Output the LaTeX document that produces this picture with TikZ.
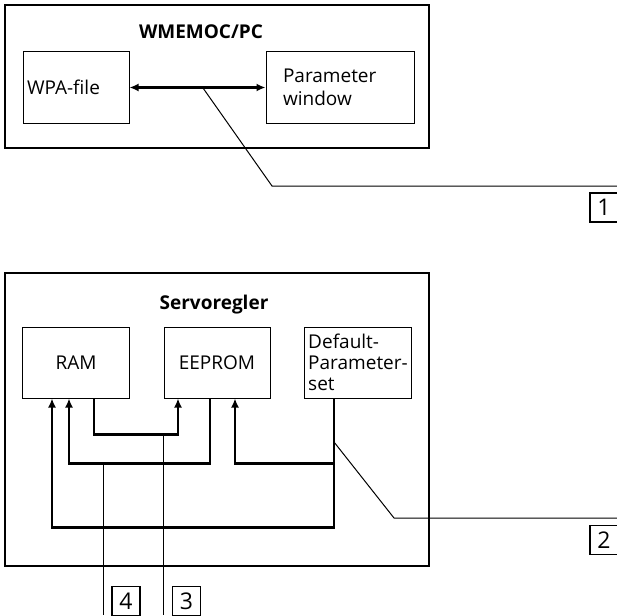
\documentclass[tikz,border=0pt]{standalone}
\usepackage{fontspec}
\setmainfont{Open Sans}
\usetikzlibrary{arrows.meta}
\usetikzlibrary{positioning}

\begin{document}
\begin{tikzpicture}[x=1pt,y=-1pt]
  \tikzset{frame/.style = {shape=rectangle,draw,line width=2.2pt,inner sep=0pt}}
  \tikzset{block/.style = {shape=rectangle,draw,line width=1pt,minimum height=71pt,inner sep=4pt,font=\fontsize{19}{23}\selectfont}}
  \tikzset{title/.style = {font=\fontsize{19}{23}\selectfont\bfseries}}
  \tikzset{tag/.style = {shape=rectangle,draw,line width=1.2pt,minimum width=28pt,minimum height=29pt,inner sep=0pt,font=\fontsize{23}{25}\selectfont}}
  \tikzset{flow/.style = {->,> = {Latex[length=9pt,width=8pt]},line width=2.6pt}}
  \tikzset{leader/.style = {line width=1pt}}

  \useasboundingbox (0,0) rectangle (617,615);

  % WMEMOC/PC
  \node[frame,minimum width=424pt,minimum height=143pt] (pc) at (217,76.5) {};
  \node[title] (pctitle) at (201,32) {WMEMOC/PC};
  \node[block,minimum width=106pt,text width=98pt,align=left] (wpa) at (76,87.5) {WPA-file};
  \node[block,minimum width=148pt,text width=114pt,inner xsep=17pt,align=left] (par) at (340,87.5) {Parameter\\window};
  \draw[flow,<->] (wpa) -- (par);

  % Servoregler
  \node[frame,minimum width=424pt,minimum height=293pt] (srv) at (217,419.5) {};
  \node[title] (srvtitle) at (214,305) {Servoregler};
  \node[block,minimum width=107pt] (ram) at (76,362.5) {RAM};
  \node[block,minimum width=106pt] (eep) at (217,362.5) {EEPROM};
  \node[block,minimum width=106pt,inner ysep=1pt,align=left,font=\fontsize{19}{21}\selectfont] (dflt) at (358,362.5) {Default-\\Parameter-\\set};

  \draw[flow] ([xshift=-24pt]dflt.south) -- ++(0,129) -| ([xshift=-24pt]ram.south);
  \draw[flow] ([xshift=-24pt]dflt.south) -- ++(0,65) -| ([xshift=18pt]eep.south);
  \draw[flow] ([xshift=-7pt]eep.south) -- ++(0,65) -| ([xshift=-7pt]ram.south);
  \draw[flow] ([xshift=18pt]ram.south) -- ++(0,36) -| ([xshift=-39pt]eep.south);

  % callouts
  \coordinate (k1) at (203,88);
  \coordinate (b1) at (272,186);
  \coordinate (e1) at (617,186);
  \node[tag] (n1) at (604,207.5) {1};
  \draw[leader] (k1) -- (b1) -- (e1);

  \coordinate (k2) at (334,442);
  \coordinate (b2) at (394,518);
  \coordinate (e2) at (617,518);
  \node[tag] (n2) at (604,540) {2};
  \draw[leader] (k2) -- (b2) -- (e2);

  \coordinate (k3) at (163,434);
  \coordinate (e3) at (163,615);
  \node[tag] (n3) at (186.5,601) {3};
  \draw[leader] (k3) -- (e3);

  \coordinate (k4) at (103,463);
  \coordinate (e4) at (103,615);
  \node[tag] (n4) at (126,601) {4};
  \draw[leader] (k4) -- (e4);

\end{tikzpicture}
\end{document}
